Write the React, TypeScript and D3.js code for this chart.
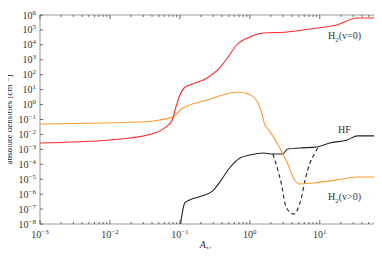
import React, { useRef, useEffect } from 'react'
import * as d3 from 'd3'

// values, as log10(A_V) and log10(density)
const h2v0LogAv = [-3, -2, -1.43, -1.2, -1.11, -1.06, -1.0, -0.94, -0.86, -0.61, -0.46, -0.31, -0.19, 0, 0.19, 0.53, 0.96, 1.24, 1.53, 1.86]
const h2v0LogN = [-2.57, -2.37, -2.0, -1.5, -1.03, -0.23, 0.64, 1.11, 1.31, 1.78, 2.32, 3.19, 3.99, 4.53, 4.79, 4.86, 5.13, 5.33, 5.8, 5.8]

const orangeLogAv = [-3, -1.43, -1.29, -1.1, -0.96, -0.86, -0.61, -0.39, -0.17, -0.04, 0.07, 0.13, 0.17, 0.21, 0.26, 0.39, 0.53, 0.64, 0.71, 0.9, 1.24, 1.53, 1.86]
const orangeLogN = [-1.3, -1.13, -1.03, -0.83, -0.23, -0.03, 0.31, 0.64, 0.84, 0.74, 0.44, -0.03, -0.56, -1.3, -1.64, -2.57, -3.85, -5.05, -5.32, -5.25, -5.05, -4.85, -4.85]

const hfLogAv = [-0.99, -0.93, -0.86, -0.71, -0.54, -0.43, -0.29, -0.14, 0, 0.19, 0.33, 0.47, 0.54, 0.71, 0.96, 1.14, 1.39, 1.54, 1.86]
const hfLogN = [-8.0, -6.59, -6.39, -6.16, -5.82, -5.19, -4.25, -3.58, -3.38, -3.24, -3.31, -3.31, -2.98, -2.91, -2.84, -2.57, -2.37, -2.1, -2.1]

const h2vLogAv = [0.33, 0.4, 0.46, 0.5, 0.57, 0.64, 0.69, 0.74, 0.79, 0.86, 0.93, 0.97]
const h2vLogN = [-3.31, -4.38, -5.52, -6.59, -7.19, -7.33, -6.93, -6.19, -5.05, -3.91, -3.24, -2.91]

const yTickExp = [6, 5, 4, 3, 2, 1, 0, -1, -2, -3, -4, -5, -6, -7, -8]
const xTickExp = [-3, -2, -1, 0, 1]

const W = 382
const H = 257
const margin = { left: 40, right: 4, top: 15, bottom: 33 }

function App() {
  const svgRef = useRef(null)

  useEffect(() => {
    const svg = d3.select(svgRef.current)
    svg.selectAll('*').remove()

    const x = d3.scaleLog().domain([1e-3, 68]).range([margin.left, W - margin.right])
    const y = d3.scaleLog().domain([1e-8, 1e6]).range([H - margin.bottom, margin.top])
    const [x0, x1] = x.range()
    const [y0, y1] = y.range()

    const font = '"Liberation Serif", "Times New Roman", serif'

    //frame
    svg
      .append('rect')
      .attr('x', x0)
      .attr('y', y1)
      .attr('width', x1 - x0)
      .attr('height', y0 - y1)
      .attr('fill', 'none')
      .attr('stroke', '#9a9a9a')
      .attr('stroke-width', 1)

    //clip for curves
    svg
      .append('clipPath')
      .attr('id', 'plotclip')
      .append('rect')
      .attr('x', x0)
      .attr('y', y1)
      .attr('width', x1 - x0)
      .attr('height', y0 - y1)

    //x ticks (major + minor) on top and bottom
    const xTicks: number[] = []
    for (let e = -3; e <= 1; e++) {
      for (let m = 1; m <= 9; m++) {
        const v = m * Math.pow(10, e)
        if (v <= 68) xTicks.push(v)
      }
    }
    const tg = svg.append('g').attr('stroke', '#444').attr('stroke-width', 0.8)
    xTicks.forEach((v) => {
      const major = Math.abs(Math.log10(v) - Math.round(Math.log10(v))) < 1e-9
      const len = major ? 4 : 2
      tg.append('line').attr('x1', x(v)).attr('x2', x(v)).attr('y1', y0).attr('y2', y0 - len)
      tg.append('line').attr('x1', x(v)).attr('x2', x(v)).attr('y1', y1).attr('y2', y1 + len)
    })
    yTickExp.forEach((e) => {
      const py = y(Math.pow(10, e))
      tg.append('line').attr('x1', x0).attr('x2', x0 + 3).attr('y1', py).attr('y2', py)
      tg.append('line').attr('x1', x1).attr('x2', x1 - 3).attr('y1', py).attr('y2', py)
    })

    //y tick labels
    yTickExp.forEach((e) => {
      const t = svg
        .append('text')
        .attr('x', x0 - 4)
        .attr('y', y(Math.pow(10, e)) + 3.5)
        .attr('text-anchor', 'end')
        .attr('font-family', font)
        .attr('font-size', 10)
        .attr('fill', '#333')
      t.append('tspan').text('10')
      t.append('tspan').attr('dy', -4).attr('font-size', 7).text(e < 0 ? '\u2212' + -e : String(e))
    })

    //x tick labels
    xTickExp.forEach((e) => {
      const t = svg
        .append('text')
        .attr('x', x(Math.pow(10, e)))
        .attr('y', y0 + 14)
        .attr('text-anchor', 'middle')
        .attr('font-family', font)
        .attr('font-size', 10)
        .attr('fill', '#333')
      t.append('tspan').text('10')
      t.append('tspan').attr('dy', -4).attr('font-size', 7).text(e < 0 ? '\u2212' + -e : String(e))
    })

    //axis titles
    const xt = svg
      .append('text')
      .attr('x', 205)
      .attr('y', 248)
      .attr('text-anchor', 'middle')
      .attr('font-family', font)
      .attr('font-size', 10)
      .attr('font-style', 'italic')
      .attr('fill', '#333')
    xt.append('tspan').text('A')
    xt.append('tspan').attr('dy', 2.5).attr('font-size', 7).text('V')

    const yt = svg
      .append('text')
      .attr('transform', `translate(12,${(y0 + y1) / 2}) rotate(-90)`)
      .attr('text-anchor', 'middle')
      .attr('font-family', font)
      .attr('font-size', 9)
      .attr('fill', '#222')
    yt.append('tspan').text('absolute densities [cm')
    yt.append('tspan').attr('dy', -3.5).attr('font-size', 6.5).text('\u22123')
    yt.append('tspan').attr('dy', 3.5).text(']')

    //curves
    const line = d3
      .line<[number, number]>()
      .x((d) => x(Math.pow(10, d[0])))
      .y((d) => y(Math.pow(10, d[1])))
      .curve(d3.curveMonotoneX)

    const curves = svg.append('g').attr('clip-path', 'url(#plotclip)').attr('fill', 'none')

    const series = [
      { av: hfLogAv, n: hfLogN, color: '#222', dash: null },
      { av: h2vLogAv, n: h2vLogN, color: '#222', dash: '4,3' },
      { av: orangeLogAv, n: orangeLogN, color: '#ff9a2e', dash: null },
      { av: h2v0LogAv, n: h2v0LogN, color: '#ff2a2a', dash: null },
    ]
    series.forEach((s) => {
      const pts = s.av.map((a, i) => [a, s.n[i]] as [number, number])
      curves
        .append('path')
        .attr('d', line(pts))
        .attr('stroke', s.color)
        .attr('stroke-width', 1.1)
        .attr('stroke-dasharray', s.dash)
    })

    //curve labels
    const addLabel = (px: number, py: number, sub: string | null, rest: string) => {
      const t = svg
        .append('text')
        .attr('x', px)
        .attr('y', py)
        .attr('font-family', font)
        .attr('font-size', 10)
        .attr('fill', '#333')
      if (sub) {
        t.append('tspan').text('H')
        t.append('tspan').attr('dy', 2.5).attr('font-size', 7).text(sub)
        t.append('tspan').attr('dy', -2.5).text(rest)
      } else {
        t.text(rest)
      }
    }
    addLabel(328, 39, '2', '(v=0)')
    addLabel(338, 133, null, 'HF')
    addLabel(328, 200, '2', '(v>0)')
  }, [])

  return (
    <div style={{ margin: -8 }}>
      <svg ref={svgRef} width={W} height={H} style={{ display: 'block', background: '#fff' }} />
    </div>
  )
}

export default App
